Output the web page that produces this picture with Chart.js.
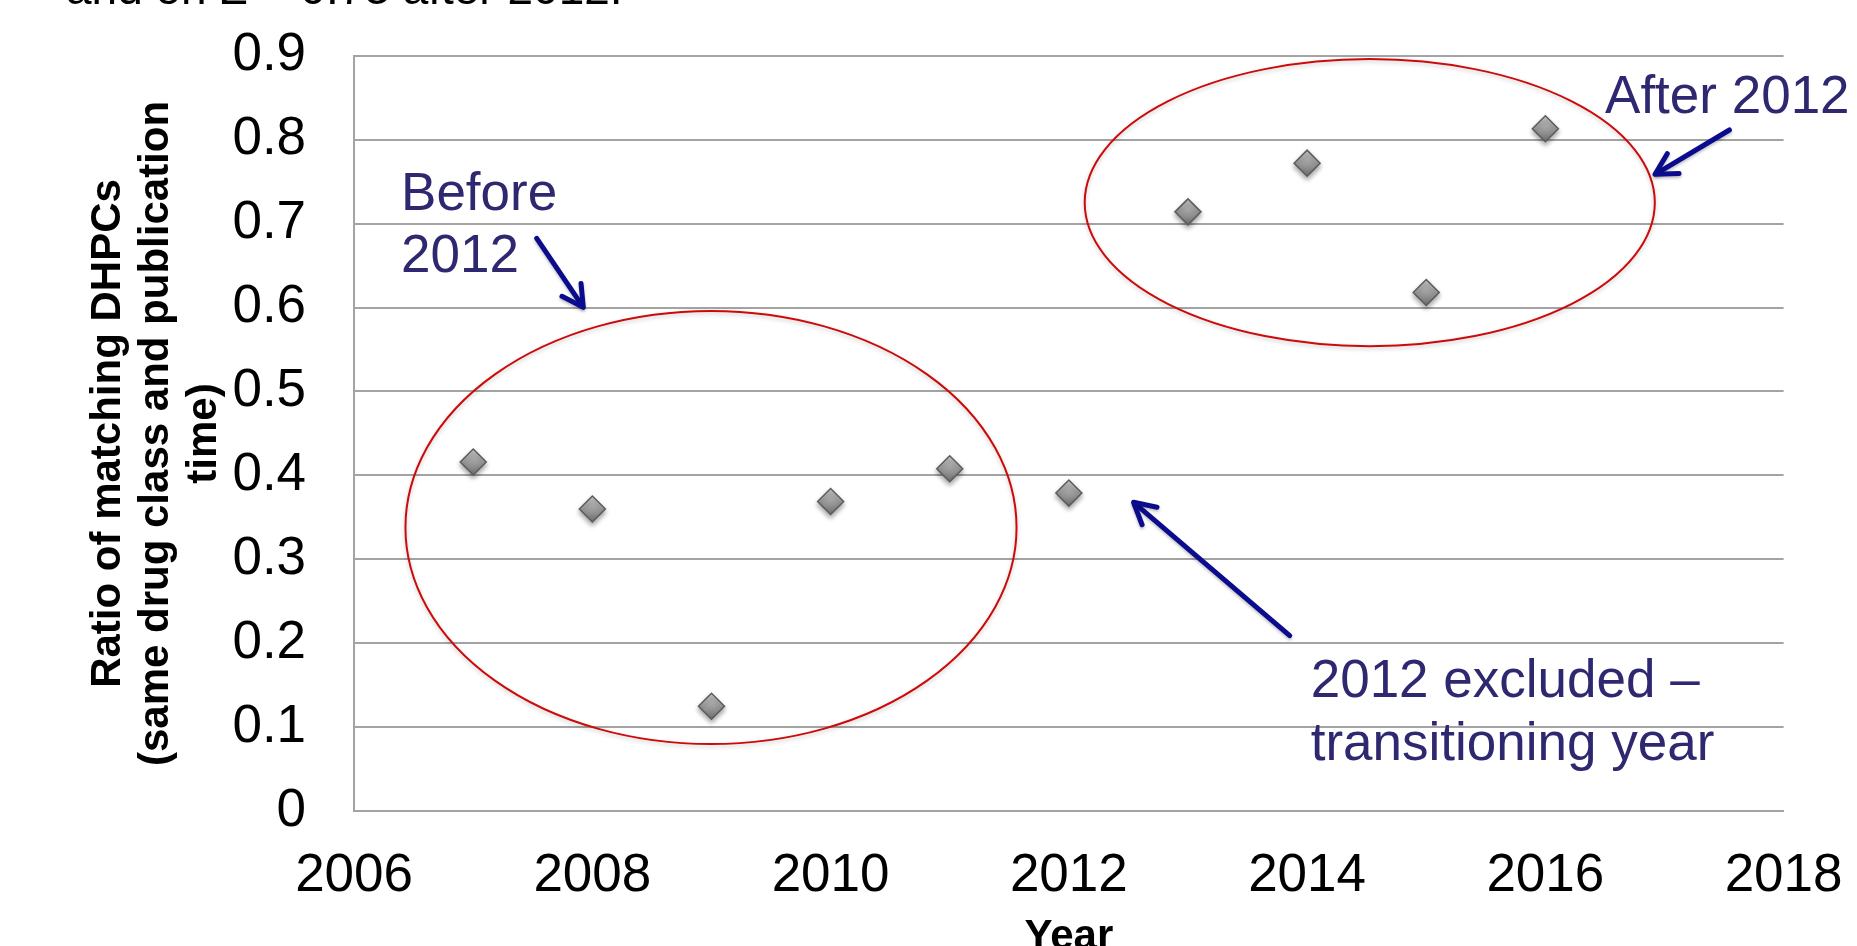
<!DOCTYPE html>
<html>
<head>
<meta charset="utf-8">
<script src="https://cdn.jsdelivr.net/npm/chart.js@4.4.1/dist/chart.umd.min.js"></script>
<style>
  html, body { margin: 0; padding: 0; background: #ffffff; overflow: hidden; }
  canvas { display: block; }
</style>
</head>
<body>
<canvas id="chart" width="1857" height="946"></canvas>
<script>
// Ratio of matching DHPCs per publication year
const years  = [2007, 2008, 2009, 2010, 2011, 2012, 2013, 2014, 2015, 2016];
const ratios = [0.416, 0.360, 0.125, 0.369, 0.408, 0.379, 0.714, 0.772, 0.618, 0.813];

// Axis ticks and titles
const xTicks = [2006, 2008, 2010, 2012, 2014, 2016, 2018];
const yTicks = [0, 0.1, 0.2, 0.3, 0.4, 0.5, 0.6, 0.7, 0.8, 0.9];
const xTitle = 'Year';
const yTitle = ['Ratio of matching DHPCs', '(same drug class and publication', 'time)'];

// Callout texts
const noteTop = 'and on \u03A3 = 0.73 after 2012.';
const noteBefore = ['Before', '2012'];
const noteAfter = 'After 2012';
const noteExcluded = ['2012 excluded \u2013', 'transitioning year'];

const FONT = '"Liberation Sans", Arial, Helvetica, sans-serif';
const GRID = '#a3a3a3';
const NAVY_TEXT = '#2e2870';
const NAVY_ARROW = '#0b0b8e';

// Annotation geometry, in data units (year, ratio)
const groupRings = [
  { cx: 2008.996, cy: 0.338, rx: 2.565, ry: 0.258 },
  { cx: 2014.526, cy: 0.725, rx: 2.393, ry: 0.171 }
];
const arrows = [
  { from: [2007.533, 0.6825], to: [2007.924, 0.6003] },
  { from: [2017.545, 0.8115], to: [2016.921, 0.7587] },
  { from: [2013.854, 0.2091], to: [2012.543, 0.3680] }
];
const callouts = [
  { lines: noteBefore,   x: 2006.394, y: 0.7162, step: 0.0742 },
  { lines: [noteAfter],  x: 2016.501, y: 0.8314, step: 0 },
  { lines: noteExcluded, x: 2014.030, y: 0.1357, step: 0.0747 }
];

function drawArrow(ctx, x0, y0, x1, y1) {
  const ang = Math.atan2(y1 - y0, x1 - x0);
  const head = 24, spread = 0.5;
  ctx.save();
  ctx.strokeStyle = NAVY_ARROW;
  ctx.lineWidth = 5;
  ctx.lineCap = 'round';
  ctx.lineJoin = 'round';
  ctx.shadowColor = 'rgba(0,0,0,0.25)';
  ctx.shadowBlur = 3;
  ctx.shadowOffsetY = 2;
  ctx.beginPath();
  ctx.moveTo(x0, y0);
  ctx.lineTo(x1 - Math.cos(ang) * 2, y1 - Math.sin(ang) * 2);
  ctx.stroke();
  ctx.beginPath();
  ctx.moveTo(x1 - head * Math.cos(ang - spread), y1 - head * Math.sin(ang - spread));
  ctx.lineTo(x1, y1);
  ctx.lineTo(x1 - head * Math.cos(ang + spread), y1 - head * Math.sin(ang + spread));
  ctx.stroke();
  ctx.restore();
}

const calloutPlugin = {
  id: 'callouts',
  beforeDatasetsDraw(chart) {
    const { ctx, scales: { x, y } } = chart;
    // red rings around the two periods
    ctx.save();
    ctx.strokeStyle = '#cc0a0a';
    ctx.lineWidth = 2;
    ctx.shadowColor = 'rgba(0,0,0,0.22)';
    ctx.shadowBlur = 4;
    ctx.shadowOffsetY = 2;
    groupRings.forEach(r => {
      const cx = x.getPixelForValue(r.cx);
      const cy = y.getPixelForValue(r.cy);
      const rx = x.getPixelForValue(r.cx + r.rx) - cx;
      const ry = cy - y.getPixelForValue(r.cy + r.ry);
      ctx.beginPath();
      ctx.ellipse(cx, cy, rx, ry, 0, 0, Math.PI * 2);
      ctx.stroke();
    });
    ctx.restore();
    // soft drop shadow under the markers
    ctx.save();
    ctx.shadowColor = 'rgba(0,0,0,0.35)';
    ctx.shadowBlur = 5;
    ctx.shadowOffsetY = 3;
  },
  afterDatasetsDraw(chart) {
    const { ctx, scales: { x, y } } = chart;
    ctx.restore();
    arrows.forEach(a => {
      drawArrow(ctx,
        x.getPixelForValue(a.from[0]), y.getPixelForValue(a.from[1]),
        x.getPixelForValue(a.to[0]), y.getPixelForValue(a.to[1]));
    });
    ctx.save();
    ctx.fillStyle = NAVY_TEXT;
    ctx.font = '53px ' + FONT;
    ctx.textAlign = 'left';
    ctx.textBaseline = 'alphabetic';
    callouts.forEach(c => {
      c.lines.forEach((line, i) => {
        ctx.fillText(line, x.getPixelForValue(c.x), y.getPixelForValue(c.y - i * c.step));
      });
    });
    ctx.restore();
  },
  afterDraw(chart) {
    const ctx = chart.ctx;
    ctx.save();
    ctx.fillStyle = '#000000';
    ctx.font = '46px ' + FONT;
    ctx.textAlign = 'left';
    ctx.textBaseline = 'alphabetic';
    ctx.fillText(noteTop, 66, 4);
    ctx.restore();
  }
};

const points = years.map((yr, i) => ({ x: yr, y: ratios[i] }));

// grey diamond fill, lighter at the top
function markerFill(c) {
  const chart = c.chart;
  const ys = chart.scales && chart.scales.y;
  if (c.type !== 'data' || !ys || !c.raw) return '#9a9a9a';
  const py = ys.getPixelForValue(c.raw.y);
  if (!Number.isFinite(py)) return '#9a9a9a';
  const g = chart.ctx.createLinearGradient(0, py - 13, 0, py + 13);
  g.addColorStop(0, '#cdcdcd');
  g.addColorStop(1, '#707070');
  return g;
}

new Chart(document.getElementById('chart'), {
  type: 'scatter',
  data: {
    datasets: [{
      data: points,
      pointStyle: 'rectRot',
      pointRadius: 13,
      pointHoverRadius: 13,
      borderWidth: 1.5,
      borderColor: '#5c5c5c',
      backgroundColor: markerFill
    }]
  },
  options: {
    responsive: false,
    animation: false,
    events: [],
    layout: { padding: { top: 55.7, right: 73.4, bottom: 0, left: 0 } },
    plugins: {
      legend: { display: false },
      tooltip: { enabled: false }
    },
    scales: {
      x: {
        type: 'linear',
        min: 2006,
        max: 2018,
        afterBuildTicks: (s) => { s.ticks = xTicks.map(v => ({ value: v })); },
        afterFit: (s) => {
          s.height = 946 - 811.25;
          s.paddingLeft = 0;
          s.paddingRight = 0;
        },
        grid: { display: false, drawTicks: false },
        border: { display: true, color: GRID, width: 2 },
        ticks: {
          color: '#000000',
          padding: 33,
          maxRotation: 0,
          autoSkip: false,
          font: { family: FONT, size: 53, lineHeight: 1.2 },
          callback: (v) => String(v)
        },
        title: {
          display: true,
          text: xTitle,
          color: '#000000',
          padding: { top: 0, bottom: -12 },
          font: { family: FONT, size: 42, weight: 'bold', lineHeight: 1.0 }
        }
      },
      y: {
        type: 'linear',
        min: 0,
        max: 0.9,
        afterBuildTicks: (s) => { s.ticks = yTicks.map(v => ({ value: v })); },
        afterFit: (s) => {
          s.width = 354.1;
          s.paddingTop = 0;
          s.paddingBottom = 0;
        },
        grid: { color: GRID, lineWidth: 2, drawTicks: false },
        border: { display: true, color: GRID, width: 2 },
        ticks: {
          color: '#000000',
          padding: 48,
          autoSkip: false,
          font: { family: FONT, size: 53, lineHeight: 1.2 },
          callback: (v) => (v === 0 ? '0' : v.toFixed(1))
        },
        title: {
          display: true,
          text: yTitle,
          color: '#000000',
          padding: { top: 84, bottom: 0 },
          font: { family: FONT, size: 42, weight: 'bold', lineHeight: 1.15 }
        }
      }
    }
  },
  plugins: [calloutPlugin]
});
</script>
</body>
</html>
